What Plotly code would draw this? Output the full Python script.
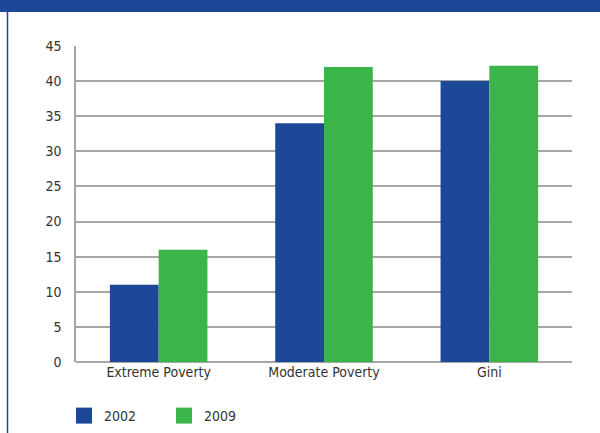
import plotly.graph_objects as go

categories = ["Extreme Poverty", "Moderate Poverty", "Gini"]
series_2002 = [11, 34, 40]
series_2009 = [16, 42, 42.2]
tick_vals = [0, 5, 10, 15, 20, 25, 30, 35, 40, 45]

BLUE = "#1c4897"
GREEN = "#3bb54a"
FONT = "DejaVu Sans Condensed, Roboto, Arial"

fig = go.Figure()
fig.add_trace(go.Bar(name="2002", x=categories, y=series_2002, showlegend=False,
                     marker=dict(color=BLUE, line=dict(width=0))))
fig.add_trace(go.Bar(name="2009", x=categories, y=series_2009, showlegend=False,
                     marker=dict(color=GREEN, line=dict(width=0))))
# legend entries with large square swatches
fig.add_trace(go.Scatter(name="2002", x=[None], y=[None], mode="markers",
                         marker=dict(symbol="square", size=16, color=BLUE)))
fig.add_trace(go.Scatter(name="2009", x=[None], y=[None], mode="markers",
                         marker=dict(symbol="square", size=16, color=GREEN)))

L, R, T, B = 76, 28, 46, 71
W, H = 600, 433
pw, ph = W - L - R, H - T - B

def px(x):
    return (x - L) / pw

def py(y):
    return (H - B - y) / ph

fig.update_layout(
    width=W, height=H,
    margin=dict(l=L, r=R, t=T, b=B, autoexpand=False),
    paper_bgcolor="white", plot_bgcolor="white",
    barmode="group", bargap=0.41, bargroupgap=0.0,
    font=dict(family=FONT, size=14, color="#333333"),
    showlegend=True,
    legend=dict(orientation="h", x=px(64), y=py(400), xanchor="left", yanchor="top",
                font=dict(size=14), entrywidth=55, entrywidthmode="pixels", itemwidth=30,
                tracegroupgap=0, bgcolor="rgba(0,0,0,0)"),
    xaxis=dict(showgrid=False, showline=False, ticks="", tickfont=dict(size=14)),
    yaxis=dict(range=[0, 45], tickvals=tick_vals, showgrid=True, gridcolor="#a6a6a6", gridwidth=1.5,
               showline=True, linecolor="#a6a6a6", linewidth=1.5, zeroline=True, zerolinecolor="#a6a6a6",
               zerolinewidth=1.5, ticks="", ticklabelstandoff=10, tickfont=dict(size=14)),
    shapes=[
        dict(type="rect", xref="paper", yref="paper", x0=px(0), x1=px(600), y0=py(12), y1=py(0),
             fillcolor=BLUE, line=dict(width=0), layer="above"),
        dict(type="line", xref="paper", yref="paper", x0=px(7.5), x1=px(7.5), y0=py(433), y1=py(12),
             line=dict(color=BLUE, width=1.5)),
    ],
)

fig.write_html("out.html", config={"displayModeBar": False},
               post_script="document.body.style.margin='0';document.body.style.overflow='hidden';")
